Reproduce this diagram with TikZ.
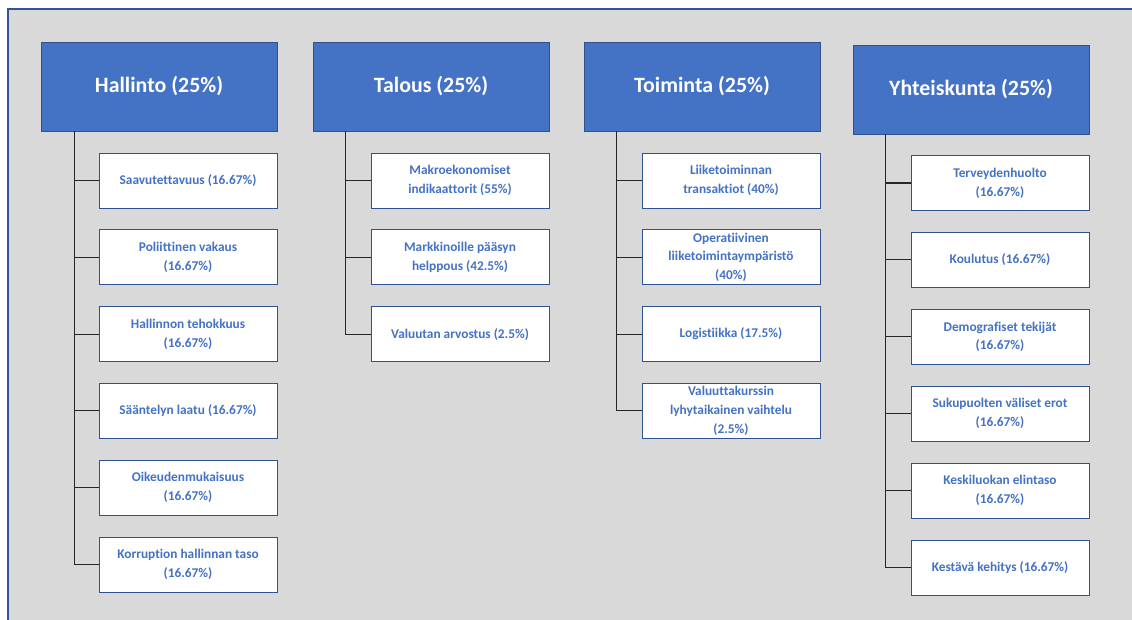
\documentclass[tikz,border=0pt]{standalone}
\usepackage{fontspec}
\setmainfont{Carlito}[RawFeature=-liga]
\definecolor{hdr}{HTML}{4472C4}
\definecolor{hdrb}{HTML}{2F528F}
\definecolor{bg}{HTML}{D9D9D9}
\definecolor{frame}{HTML}{2F5597}
\definecolor{txt}{HTML}{4472C4}
\tikzset{
  header/.style={draw=hdrb, line width=0.6pt, fill=hdr, text=white, font=\fontsize{16.4}{19}\selectfont\bfseries,
    minimum width=177pt, minimum height=66.75pt, inner sep=0pt, align=center},
  child/.style={draw=hdrb, line width=0.6pt, fill=white, text=txt, font=\fontsize{10}{14.2}\selectfont\bfseries,
    minimum width=133.5pt, minimum height=41.25pt, inner sep=0pt, align=center},
  conn/.style={draw=black!85, line width=0.8pt}
}
\begin{document}
\begin{tikzpicture}[x=0.75pt,y=-0.75pt]
\useasboundingbox (0,0) rectangle (1132,619);
\fill[bg] (8,9) rectangle (1140,630);
\draw[frame, line width=0.8pt] (8,630) -- (8,9) -- (1140,9);

% headers
\node[header] (h1) at (159,86.5) {Hallinto (25\%)};
\node[header] (h2) at (431,86.5) {Talous (25\%)};
\node[header] (h3) at (702,86.5) {Toiminta (25\%)};
\node[header] (h4) at (971,89.5) {Yhteiskunta (25\%)};

% Hallinto
\node[child] (a1) at (188,180.5) {Saavutettavuus (16.67\%)};
\node[child] (a2) at (188,257.3) {Poliittinen vakaus\\(16.67\%)};
\node[child] (a3) at (188,334.1) {Hallinnon tehokkuus\\(16.67\%)};
\node[child] (a4) at (188,410.9) {Sääntelyn laatu (16.67\%)};
\node[child] (a5) at (188,487.7) {Oikeudenmukaisuus\\(16.67\%)};
\node[child] (a6) at (188,564.5) {Korruption hallinnan taso\\(16.67\%)};

% Talous
\node[child] (b1) at (460,180.5) {Makroekonomiset\\indikaattorit (55\%)};
\node[child] (b2) at (460,257.3) {Markkinoille pääsyn\\helppous (42.5\%)};
\node[child] (b3) at (460,334.1) {Valuutan arvostus (2.5\%)};

% Toiminta
\node[child] (c1) at (731,180.5) {Liiketoiminnan\\transaktiot (40\%)};
\node[child] (c2) at (731,257.3) {Operatiivinen\\liiketoimintaympäristö\\(40\%)};
\node[child] (c3) at (731,334.1) {Logistiikka (17.5\%)};
\node[child] (c4) at (731,410.9) {Valuuttakurssin\\lyhytaikainen vaihtelu\\(2.5\%)};

% Yhteiskunta
\node[child] (d1) at (1000,183) {Terveydenhuolto\\(16.67\%)};
\node[child] (d2) at (1000,259.9) {Koulutus (16.67\%)};
\node[child] (d3) at (1000,336.8) {Demografiset tekijät\\(16.67\%)};
\node[child] (d4) at (1000,413.7) {Sukupuolten väliset erot\\(16.67\%)};
\node[child] (d5) at (1000,490.6) {Keskiluokan elintaso\\(16.67\%)};
\node[child] (d6) at (1000,567.5) {Kestävä kehitys (16.67\%)};

% connectors
\foreach \c in {a1,a2,a3,a4,a5,a6}
  \draw[conn] ([xshift=25.5pt]h1.south west) |- (\c.west);
\foreach \c in {b1,b2,b3}
  \draw[conn] ([xshift=24.75pt]h2.south west) |- (\c.west);
\foreach \c in {c1,c2,c3,c4}
  \draw[conn] ([xshift=24.75pt]h3.south west) |- (\c.west);
\foreach \c in {d1,d2,d3,d4,d5,d6}
  \draw[conn] ([xshift=24.75pt]h4.south west) |- (\c.west);
\end{tikzpicture}
\end{document}
